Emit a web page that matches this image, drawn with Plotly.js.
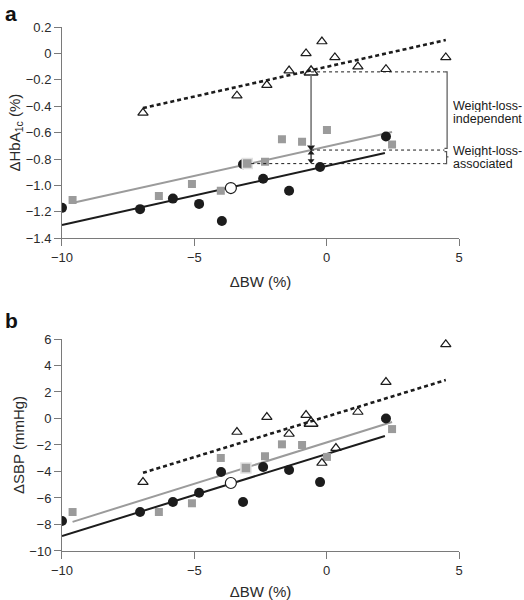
<!DOCTYPE html>
<html>
<head>
<meta charset="utf-8">
<script src="https://cdn.plot.ly/plotly-3.0.1.min.js"></script>
<style>html,body{margin:0;padding:0;background:#fff;}#chart{width:524px;height:600px;}</style>
</head>
<body>
<div id="chart"></div>
<script>
// ---------- Panel a : ΔHbA1c vs ΔBW ----------
const circA_x = [-10, -7.05, -5.81, -4.82, -3.96, -3.16, -2.40, -1.42, -0.25, 2.24];
const circA_y = [-1.17, -1.18, -1.10, -1.14, -1.27, -0.84, -0.95, -1.04, -0.86, -0.63];
const sqA_x = [-9.6, -6.34, -5.09, -4.0, -2.33, -1.69, -0.93, 0.01, 2.47];
const sqA_y = [-1.11, -1.08, -0.99, -1.04, -0.82, -0.65, -0.67, -0.58, -0.69];
const triA_x = [-6.94, -3.39, -2.26, -1.42, -0.78, -0.18, 0.31, 1.18, 2.24, 4.5];
const triA_y = [-0.45, -0.32, -0.24, -0.13, 0.0, 0.09, -0.03, -0.10, -0.12, -0.03];
const meanA_circ = [-3.62, -1.02];
const meanA_sq = [-3.0, -0.835];
const meanA_tri = [-0.59, -0.14];
const fitA_black_x = [-10, 2.2],  fitA_black_y = [-1.30, -0.755];
const fitA_gray_x = [-9.62, 2.47], fitA_gray_y = [-1.134, -0.596];
const fitA_dash_x = [-6.94, 4.5], fitA_dash_y = [-0.414, 0.101];

// ---------- Panel b : ΔSBP vs ΔBW ----------
const circB_x = [-10, -7.05, -5.81, -4.82, -3.99, -3.16, -2.40, -1.42, -0.25, 2.24];
const circB_y = [-7.74, -7.06, -6.3, -5.6, -4.04, -6.3, -3.66, -3.89, -4.8, 0.0];
const sqB_x = [-9.6, -6.34, -5.09, -4.0, -2.33, -1.69, -0.93, 0.01, 2.47];
const sqB_y = [-7.06, -7.06, -6.4, -2.98, -2.85, -1.95, -2.0, -2.9, -0.8];
const triB_x = [-6.94, -3.39, -2.26, -1.42, -0.78, -0.18, 0.35, 1.18, 2.24, 4.5];
const triB_y = [-4.8, -1.02, 0.11, -1.17, 0.26, -3.36, -2.23, 0.49, 2.75, 5.6];
const meanB_circ = [-3.62, -4.87];
const meanB_sq = [-3.05, -3.74];
const meanB_tri = [-0.59, -0.35];
const fitB_black_x = [-10, 2.2],  fitB_black_y = [-8.87, -1.32];
const fitB_gray_x = [-9.6, 2.47], fitB_gray_y = [-7.8, -0.26];
const fitB_dash_x = [-6.94, 4.5], fitB_dash_y = [-4.1, 2.9];

// ---------- ticks ----------
const xTickVals = [-10, -5, 0, 5];
const xTickText = ['\u221210', '\u22125', '0', '5'];
const yA_TickVals = [0.2, 0, -0.2, -0.4, -0.6, -0.8, -1.0, -1.2, -1.4];
const yA_TickText = ['0.2', '0', '\u22120.2', '\u22120.4', '\u22120.6', '\u22120.8', '\u22121.0', '\u22121.2', '\u22121.4'];
const yB_TickVals = [6, 4, 2, 0, -2, -4, -6, -8, -10];
const yB_TickText = ['6', '4', '2', '0', '\u22122', '\u22124', '\u22126', '\u22128', '\u221210'];

const FONT = 'Liberation Sans, Arial, Helvetica, sans-serif';
const BLACK = '#1c1c1c', GRAY = '#9b9b9b', AX = '#7a7a7a';

function panel(ax, ay, d) {
  return [
    {x: d.fg_x, y: d.fg_y, mode: 'lines', line: {color: GRAY, width: 2}, xaxis: ax, yaxis: ay, hoverinfo: 'skip'},
    {x: d.fb_x, y: d.fb_y, mode: 'lines', line: {color: BLACK, width: 2}, xaxis: ax, yaxis: ay, hoverinfo: 'skip'},
    {x: d.fd_x, y: d.fd_y, mode: 'lines', line: {color: BLACK, width: 2.6, dash: '4px,3px'}, xaxis: ax, yaxis: ay, hoverinfo: 'skip'},
    {x: d.sq_x, y: d.sq_y, mode: 'markers', marker: {symbol: 'square', size: 8, color: GRAY}, xaxis: ax, yaxis: ay},
    {x: d.c_x, y: d.c_y, mode: 'markers', marker: {symbol: 'circle', size: 10, color: BLACK}, xaxis: ax, yaxis: ay},
    {x: d.t_x, y: d.t_y, mode: 'markers', marker: {symbol: 'triangle-up-open', size: 9, color: BLACK, line: {width: 1.2, color: BLACK}}, xaxis: ax, yaxis: ay},
    {x: [d.ms[0]], y: [d.ms[1]], mode: 'markers', marker: {symbol: 'square', size: 10, color: GRAY, line: {color: '#e2e2e2', width: 1.5}}, xaxis: ax, yaxis: ay},
    {x: [d.mc[0]], y: [d.mc[1]], mode: 'markers', marker: {symbol: 'circle', size: 11, color: '#ffffff', line: {color: BLACK, width: 1.2}}, xaxis: ax, yaxis: ay},
    {x: [d.mt[0]], y: [d.mt[1]], mode: 'markers', marker: {symbol: 'triangle-up-open', size: 12, color: BLACK, line: {width: 1.5, color: BLACK}}, xaxis: ax, yaxis: ay}
  ];
}

// gray fit line value at the triangle mean x (panel a)
function lerp(xs, ys, x) { return ys[0] + (ys[1] - ys[0]) * (x - xs[0]) / (xs[1] - xs[0]); }
const arrowX = meanA_tri[0];
const grayAt = lerp(fitA_gray_x, fitA_gray_y, arrowX);
const lowAt = meanA_sq[1];
const brX = 4.55, brL = 4.45;
const headOff = 0.022; // half arrow-head height in data units

const data = [].concat(
  panel('x', 'y', {fg_x: fitA_gray_x, fg_y: fitA_gray_y, fb_x: fitA_black_x, fb_y: fitA_black_y, fd_x: fitA_dash_x, fd_y: fitA_dash_y,
    sq_x: sqA_x, sq_y: sqA_y, c_x: circA_x, c_y: circA_y, t_x: triA_x, t_y: triA_y, ms: meanA_sq, mc: meanA_circ, mt: meanA_tri}),
  panel('x2', 'y2', {fg_x: fitB_gray_x, fg_y: fitB_gray_y, fb_x: fitB_black_x, fb_y: fitB_black_y, fd_x: fitB_dash_x, fd_y: fitB_dash_y,
    sq_x: sqB_x, sq_y: sqB_y, c_x: circB_x, c_y: circB_y, t_x: triB_x, t_y: triB_y, ms: meanB_sq, mc: meanB_circ, mt: meanB_tri}),
  [
    // arrow heads (panel a)
    {x: [arrowX], y: [grayAt + headOff], mode: 'markers', marker: {symbol: 'triangle-down', size: 7, color: BLACK}, xaxis: 'x', yaxis: 'y', hoverinfo: 'skip'},
    {x: [arrowX], y: [grayAt - headOff], mode: 'markers', marker: {symbol: 'triangle-up', size: 6, color: BLACK}, xaxis: 'x', yaxis: 'y', hoverinfo: 'skip'},
    {x: [arrowX], y: [lowAt + headOff], mode: 'markers', marker: {symbol: 'triangle-down', size: 6, color: BLACK}, xaxis: 'x', yaxis: 'y', hoverinfo: 'skip'}
  ]
);

const axisCommon = {
  showline: true, linecolor: AX, linewidth: 1, ticks: 'outside', ticklen: 7, tickcolor: AX, tickwidth: 1,
  showgrid: false, zeroline: false, tickfont: {family: FONT, size: 13, color: '#2a2a2a'}, fixedrange: true
};
const titleFont = {family: FONT, size: 15, color: '#2a2a2a'};

const layout = {
  width: 524, height: 600,
  margin: {l: 0, r: 0, t: 0, b: 0},
  paper_bgcolor: '#fff', plot_bgcolor: '#fff',
  showlegend: false,
  font: {family: FONT, color: '#2a2a2a'},
  xaxis: Object.assign({}, axisCommon, {domain: [0.1183, 0.876], range: [-10, 5], anchor: 'y',
    tickvals: xTickVals, ticktext: xTickText, title: {text: '\u0394BW (%)', font: titleFont, standoff: 12}}),
  yaxis: Object.assign({}, axisCommon, {domain: [0.603, 0.955], range: [-1.4, 0.2], anchor: 'x',
    tickvals: yA_TickVals, ticktext: yA_TickText, title: {text: '\u0394HbA<sub>1c</sub> (%)', font: titleFont, standoff: 1}}),
  xaxis2: Object.assign({}, axisCommon, {domain: [0.1183, 0.876], range: [-10, 5], anchor: 'y2',
    tickvals: xTickVals, ticktext: xTickText, title: {text: '\u0394BW (%)', font: titleFont, standoff: 11}}),
  yaxis2: Object.assign({}, axisCommon, {domain: [0.0817, 0.435], range: [-10, 6], anchor: 'x2',
    tickvals: yB_TickVals, ticktext: yB_TickText, title: {text: '\u0394SBP (mmHg)', font: titleFont, standoff: 1}}),
  shapes: [
    // dotted reference lines
    {type: 'line', xref: 'x', yref: 'y', x0: arrowX, x1: brL, y0: meanA_tri[1], y1: meanA_tri[1], line: {color: BLACK, width: 1, dash: 'dot'}},
    {type: 'line', xref: 'x', yref: 'y', x0: arrowX, x1: brL, y0: grayAt, y1: grayAt, line: {color: BLACK, width: 1, dash: 'dot'}},
    {type: 'line', xref: 'x', yref: 'y', x0: meanA_sq[0] + 0.15, x1: brL, y0: lowAt, y1: lowAt, line: {color: BLACK, width: 1, dash: 'dot'}},
    // gray vertical connector
    {type: 'line', xref: 'x', yref: 'y', x0: arrowX, x1: arrowX, y0: meanA_tri[1] - 0.02, y1: grayAt + 0.03, line: {color: '#6e6e6e', width: 1.5}},
    // black double arrow shaft
    {type: 'line', xref: 'x', yref: 'y', x0: arrowX, x1: arrowX, y0: grayAt - headOff, y1: lowAt + headOff, line: {color: BLACK, width: 1.2}},
    // bracket: weight-loss-independent
    {type: 'path', xref: 'x', yref: 'y', path: 'M ' + brL + ' ' + meanA_tri[1] + ' L ' + brX + ' ' + meanA_tri[1] + ' L ' + brX + ' ' + (grayAt + 0.012) + ' L ' + brL + ' ' + (grayAt + 0.012),
      line: {color: '#555', width: 1.2}},
    // bracket: weight-loss-associated
    {type: 'path', xref: 'x', yref: 'y', path: 'M ' + brL + ' ' + (grayAt - 0.012) + ' L 4.53 ' + (grayAt - 0.012) + ' L 4.53 ' + ((grayAt + lowAt) / 2) + ' L 4.6 ' + ((grayAt + lowAt) / 2) + ' M 4.53 ' + ((grayAt + lowAt) / 2) + ' L 4.53 ' + lowAt + ' L ' + brL + ' ' + lowAt,
      line: {color: '#555', width: 1.2}}
  ],
  annotations: [
    {text: '<b>a</b>', xref: 'paper', yref: 'paper', x: 0.006, y: 1.0, xanchor: 'left', yanchor: 'top', showarrow: false, font: {family: FONT, size: 21, color: '#111'}},
    {text: '<b>b</b>', xref: 'paper', yref: 'paper', x: 0.006, y: 0.488, xanchor: 'left', yanchor: 'top', showarrow: false, font: {family: FONT, size: 21, color: '#111'}},
    // bracket labels
    {text: 'Weight-loss-', xref: 'x', yref: 'y', x: 4.68, y: -0.40, xanchor: 'left', yanchor: 'middle', height: 12, showarrow: false, font: {family: FONT, size: 12.5, color: '#1a1a1a'}},
    {text: 'independent', xref: 'x', yref: 'y', x: 4.68, y: -0.497, xanchor: 'left', yanchor: 'middle', height: 12, showarrow: false, font: {family: FONT, size: 12.5, color: '#1a1a1a'}},
    {text: 'Weight-loss-', xref: 'x', yref: 'y', x: 4.68, y: -0.742, xanchor: 'left', yanchor: 'middle', height: 12, showarrow: false, font: {family: FONT, size: 12.5, color: '#1a1a1a'}},
    {text: 'associated', xref: 'x', yref: 'y', x: 4.68, y: -0.84, xanchor: 'left', yanchor: 'middle', height: 12, showarrow: false, font: {family: FONT, size: 12.5, color: '#1a1a1a'}}
  ]
};

Plotly.newPlot('chart', data, layout, {displayModeBar: false, staticPlot: true});
</script>
</body>
</html>
